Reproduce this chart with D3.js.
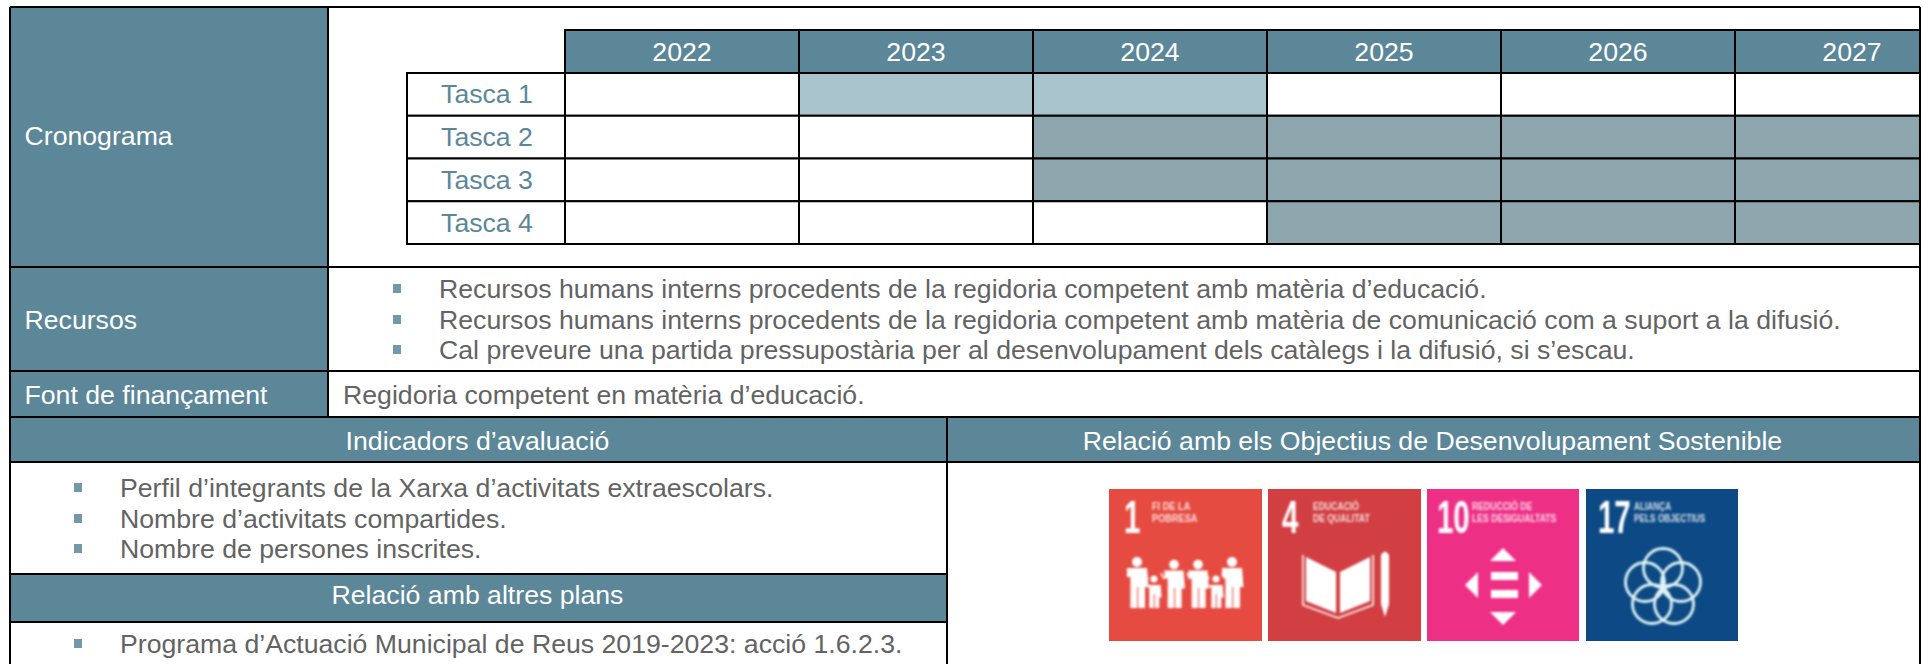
<!DOCTYPE html>
<html lang="ca"><head><meta charset="utf-8">
<script src="https://cdn.jsdelivr.net/npm/d3@7"></script>
<style>html,body{margin:0;background:#fff;overflow:hidden}svg{display:block}text{font-family:"Liberation Sans",Arial,sans-serif;font-size:26.67px}</style>
</head><body><svg id="c" width="1923" height="664"></svg>
<script>
const years = ["2022","2023","2024","2025","2026","2027"];
const tasks = ["Tasca 1","Tasca 2","Tasca 3","Tasca 4"];
// 0 = empty, 1 = first phase, 2 = ongoing phase
const schedule = [
  [0,1,1,0,0,0],
  [0,0,2,2,2,2],
  [0,0,2,2,2,2],
  [0,0,0,2,2,2]
];
const recursos = [
  "Recursos humans interns procedents de la regidoria competent amb matèria d’educació.",
  "Recursos humans interns procedents de la regidoria competent amb matèria de comunicació com a suport a la difusió.",
  "Cal preveure una partida pressupostària per al desenvolupament dels catàlegs i la difusió, si s’escau."
];
const indicadors = [
  "Perfil d’integrants de la Xarxa d’activitats extraescolars.",
  "Nombre d’activitats compartides.",
  "Nombre de persones inscrites."
];
const plans = ["Programa d’Actuació Municipal de Reus 2019-2023: acció 1.6.2.3."];
const sdgIds = ["1","4","10","17"];
const sdgTitles = [["FI DE LA","POBRESA"],["EDUCACIÓ","DE QUALITAT"],["REDUCCIÓ DE","LES DESIGUALTATS"],["ALIANÇA","PELS OBJECTIUS"]];
const sdgColors = ["#e64b41","#d23f42","#ee2f86","#0d4a85"];

const TEAL="#5b8799", GREY="#636363", LIGHT="#aac4ce", DARK="#8da5ad";
const svg=d3.select("#c");
const defs=svg.append("defs");
defs.append("clipPath").attr("id","page").append("rect").attr("x",0).attr("y",0).attr("width",1920).attr("height",664);
defs.append("filter").attr("id","soft").attr("x","-10%").attr("y","-10%").attr("width","120%").attr("height","120%")
  .append("feGaussianBlur").attr("stdDeviation",0.8);

const rect=(g,x0,y0,x1,y1,fill)=>g.append("rect").attr("x",x0).attr("y",y0).attr("width",x1-x0).attr("height",y1-y0).attr("fill",fill);
const line=(g,x0,y0,x1,y1)=>g.append("line").attr("x1",x0).attr("y1",y0).attr("x2",x1).attr("y2",y1).attr("stroke","#000").attr("stroke-width",2);
const label=(g,t,x,y,fill,anchor)=>g.append("text").attr("x",x).attr("y",y).attr("fill",fill).attr("text-anchor",anchor||"start").text(t);

// Section backgrounds
const L=10,R=1920,C1=328,C2=947,Y=[7,267,371,417,462,574,622];
rect(svg,L,Y[0],C1,Y[3],TEAL);
rect(svg,L,Y[3],R,Y[4],TEAL);
rect(svg,L,Y[5],C2,Y[6],TEAL);
label(svg,"Cronograma",24.5,145,"#fff");
label(svg,"Recursos",24.5,329,"#fff");
label(svg,"Font de finançament",24.5,404,"#fff");
label(svg,"Regidoria competent en matèria d’educació.",343,404,GREY);
label(svg,"Indicadors d’avaluació",(L+C2)/2-1,450,"#fff","middle");
label(svg,"Relació amb els Objectius de Desenvolupament Sostenible",(C2+R)/2-1,450,"#fff","middle");
label(svg,"Relació amb altres plans",(L+C2)/2-1,604,"#fff","middle");

// Gantt grid
const x=d3.scaleBand().domain(years).range([565,1969]);
const y=d3.scaleBand().domain(tasks).range([73,244]);
const gantt=svg.append("g").attr("clip-path","url(#page)");
const headTop=30, labelLeft=407;
gantt.selectAll("rect.h").data(years).join("rect").attr("class","h")
  .attr("x",d=>x(d)).attr("y",headTop).attr("width",x.bandwidth()).attr("height",y.range()[0]-headTop)
  .attr("fill",TEAL).attr("stroke","#000").attr("stroke-width",2);
gantt.selectAll("text.h").data(years).join("text").attr("class","h")
  .attr("x",d=>x(d)+x.bandwidth()/2).attr("y",61).attr("text-anchor","middle").attr("fill","#fff").text(d=>d);
gantt.selectAll("rect.t").data(tasks).join("rect").attr("class","t")
  .attr("x",labelLeft).attr("y",d=>y(d)).attr("width",x.range()[0]-labelLeft).attr("height",y.bandwidth())
  .attr("fill","#fff").attr("stroke","#000").attr("stroke-width",2);
gantt.selectAll("text.t").data(tasks).join("text").attr("class","t")
  .attr("x",(labelLeft+x.range()[0])/2+1).attr("y",d=>y(d)+y.bandwidth()/2+9).attr("text-anchor","middle").attr("fill",TEAL).text(d=>d);
const fills=["#fff",LIGHT,DARK];
const cells=tasks.flatMap((t,i)=>years.map((yr,j)=>({t,yr,v:schedule[i][j]})));
gantt.selectAll("rect.c").data(cells).join("rect").attr("class","c")
  .attr("x",d=>x(d.yr)).attr("y",d=>y(d.t)).attr("width",x.bandwidth()).attr("height",y.bandwidth())
  .attr("fill",d=>fills[d.v]).attr("stroke","#000").attr("stroke-width",2);

// Bullet lists
function list(items,bx,tx,baselines){
  const g=svg.append("g");
  g.selectAll("rect").data(items).join("rect").attr("x",bx).attr("y",(d,i)=>baselines[i]-14).attr("width",8).attr("height",9).attr("fill",TEAL).attr("fill-opacity",0.85);
  g.selectAll("text").data(items).join("text").attr("x",tx).attr("y",(d,i)=>baselines[i]).attr("fill",GREY).text(d=>d);
}
list(recursos,393,439,[298,329,359]);
list(indicadors,74,120,[497,528,558]);
list(plans,74,120,[653]);

// Frame lines
Y.slice(0,5).forEach(v=>line(svg,L,v,R,v));
line(svg,L,Y[5],C2,Y[5]);line(svg,L,Y[6],C2,Y[6]);
line(svg,L,Y[0],L,664);line(svg,R,Y[0],R,664);
line(svg,C1,Y[0],C1,Y[3]);line(svg,C2,Y[3],C2,664);

// SDG icons
const iconX=[1109,1268,1427,1586], iconTop=489, iconSize=153;
const icons=svg.append("g").selectAll("g").data(sdgIds).join("g")
  .attr("transform",(d,i)=>`translate(${iconX[i]},${iconTop})`);
icons.append("rect").attr("width",(d,i)=>i>=2?152:iconSize).attr("height",152).attr("fill",(d,i)=>sdgColors[i]);
const art=icons.append("g").attr("filter","url(#soft)");
const numX=[15,14,10,12], titleX=[43,45,45,48], titleWidthScale=[.8,.75,.75,.72];
art.append("text").attr("transform",(d,i)=>`translate(${numX[i]},44) scale(0.64,1)`)
  .attr("style","font-size:46px;font-weight:700;font-family:'Liberation Sans Narrow','Liberation Sans',sans-serif")
  .attr("fill","#fff").text(d=>d);
[0,1].forEach(n=>{
  art.append("text").attr("transform",(d,i)=>`translate(${titleX[i]},${n?33:21}) scale(${titleWidthScale[i]},1)`)
    .attr("style","font-size:11.5px;font-weight:700")
    .attr("fill","#fff").attr("fill-opacity",0.8).text((d,i)=>sdgTitles[i][n]);
});
// icon 1: family
const fam=art.filter((d,i)=>i===0);
[[28,1],[45,.66],[65,.95],[89,.95],[107,.66],[123,1]].forEach(([cx,s])=>{
  const h=50*s, top=119-h, w=s*20;
  fam.append("circle").attr("cx",cx).attr("cy",top+4).attr("r",4.4*s+.6).attr("fill","#fff");
  fam.append("path").attr("fill","#fff").attr("d",`M${cx-w/2},${top+10} h${w} l${s*1.5},${h*.38} h${-s*3.5} V119 h${-w*.34} V${top+h*.58} h${-1} V119 h${-w*.34} V${top+h*.38} h${-s*3.5} Z`);
});
[[36,72],[52,72],[78,72],[97,72],[113,72]].forEach(([cx,cy])=>
  fam.append("path").attr("stroke","#fff").attr("stroke-width",1.6).attr("fill","none").attr("d",`M${cx},${cy+12} L${cx+3},${cy+18}`));
// icon 4: book and pencil
const book=art.filter((d,i)=>i===1);
book.append("path").attr("fill","#fff").attr("d","M38,68 L68,83 V124 L38,112 Z M102,68 L72,83 V124 L102,112 Z");
book.append("path").attr("fill","none").attr("stroke","#fff").attr("stroke-width",1.6).attr("d","M35,66 V116 L70,129 L105,116 V66");
book.append("path").attr("fill","#fff").attr("d","M113,66 Q117,59 121,66 V115 L117,128 L113,115 Z");
// icon 10: arrows and bars
const ineq=art.filter((d,i)=>i===2);
ineq.append("path").attr("fill","#fff").attr("d","M76,59 L89,72 H63 Z M76,136 L89,123 H63 Z M38,96 L51,83 V109 Z M115,96 L102,83 V109 Z");
[83,101].forEach(b=>ineq.append("rect").attr("x",64).attr("y",b).attr("width",27).attr("height",8).attr("fill","#fff"));
// icon 17: five rings
const flower=art.filter((d,i)=>i===3);
[[77,79],[59,93],[95,93],[66,115],[88,115]].forEach(([cx,cy])=>
  flower.append("circle").attr("cx",cx).attr("cy",cy).attr("r",19.5).attr("fill","none").attr("stroke","#dff3f5").attr("stroke-width",2.8));
</script></body></html>
